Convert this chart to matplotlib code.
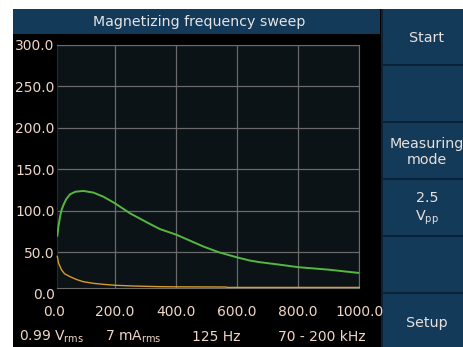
import matplotlib
matplotlib.use("Agg")
import matplotlib.pyplot as plt
from matplotlib.patches import Rectangle

# sweep data (x in kHz-ish units of the display)
green_x = [11, 15, 20, 25, 31, 40, 53, 70, 96, 129, 162, 200, 249, 315, 347,
           402, 489, 540, 598, 642, 675, 740, 800, 900, 1000]
green_y = [70, 82, 93, 101, 107, 114, 120, 123, 124, 122, 117, 109, 97, 84, 78,
           71, 57, 50, 44, 40, 38, 35, 32, 29, 25]

orange_x = [11, 15, 25, 35, 53, 75, 96, 130, 162, 200, 260, 347, 400, 560, 570, 700, 1000]
orange_y = [45, 37, 28.6, 24, 20.5, 17, 14.5, 12.5, 11.3, 10.2, 9.3, 8.5, 8.3, 8.1, 7.6, 7.6, 7.6]

y_ticks = [50, 100, 150, 200, 250, 300]
x_ticks = [200, 400, 600, 800, 1000]

buttons = ["Start", "", "Measuring\nmode", "2.5\nV$_{\\mathrm{pp}}$", "", "Setup"]
status = ["0.99 V$_{\\mathrm{rms}}$", "7 mA$_{\\mathrm{rms}}$", "125 Hz", "70 - 200 kHz"]
status_x = [52, 133, 216, 322]

W, H = 463, 347
fig = plt.figure(figsize=(W / 100, H / 100), dpi=100, facecolor="white")


def box(x, y, w, h, color, z=0):
    # pixel rectangle, origin top-left
    fig.add_artist(Rectangle((x / W, 1 - (y + h) / H), w / W, h / H,
                             transform=fig.transFigure, facecolor=color,
                             edgecolor="none", zorder=z))


txt = "#efd6c8"
btn = "#143a5a"
edge = "#0a2238"

# screen background, title bar and button column
box(13, 9, 450, 338, "black")
box(13, 9, 367, 25, btn)
box(381, 9, 82, 338, edge)
tops = [9, 66, 123, 180, 237, 294]
for t in tops:
    box(383, t, 80, 55, btn, z=1)

fig.text(199 / W, 1 - 22 / H, "Magnetizing frequency sweep", color="#e4e4e4",
         fontsize=10.2, ha="center", va="center")
for t, label in zip(tops, buttons):
    if label:
        fig.text(427 / W, 1 - (t + 29) / H, label, color="#e8e0dc", fontsize=10.3,
                 ha="center", va="center", linespacing=1.25, zorder=3)
for sx, s in zip(status_x, status):
    fig.text(sx / W, 1 - 337 / H, s, color=txt, fontsize=10,
             ha="center", va="center")

ax = fig.add_axes([56.7 / W, 1 - 288 / H, (359.3 - 56.7) / W, (288 - 45) / H])
ax.set_facecolor("#0b1317")
ax.plot(green_x, green_y, color="#56b840", lw=1.4, zorder=3)
ax.plot(orange_x, orange_y, color="#d99a2e", lw=1.0, zorder=3, clip_on=False)
ax.set_xlim(9, 1000)
ax.set_ylim(6.9, 300)
ax.set_xticks(x_ticks)
ax.set_yticks(y_ticks)
ax.set_xticklabels([f"{v:.1f}" for v in x_ticks])
ax.set_yticklabels([f"{v:.1f}" for v in y_ticks])
ax.grid(True, color="#6a6a6a", lw=0.9)
ax.tick_params(length=0, colors=txt, labelsize=10)
ax.tick_params(axis="x", pad=12)
ax.tick_params(axis="y", pad=1.5)
for side in ["top", "right", "bottom"]:
    ax.spines[side].set_color("#6a6a6a")
ax.spines["left"].set_color("#14304a")

# the 0.0 labels sit just outside the visible range
ax.annotate("0.0", xy=(0, 0), xycoords=("data", "axes fraction"), xytext=(0, -12),
            textcoords="offset points", ha="center", va="top", color=txt, fontsize=10,
            annotation_clip=False)
ax.annotate("0.0", xy=(0, 0), xycoords=("axes fraction", "data"), xytext=(-1.5, 0),
            textcoords="offset points", ha="right", va="center_baseline", color=txt,
            fontsize=10, annotation_clip=False)

fig.savefig("out.png", dpi=100, facecolor="white")
